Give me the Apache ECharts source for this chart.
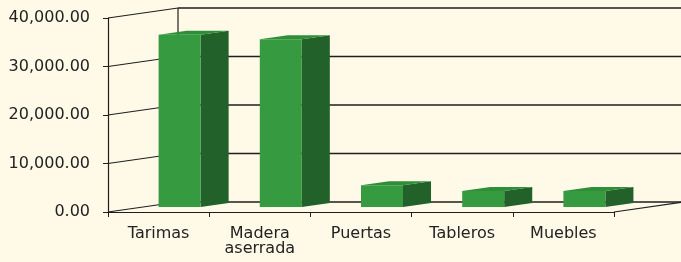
<!DOCTYPE html>
<html>
<head>
<meta charset="utf-8">
<script src="https://cdn.jsdelivr.net/npm/echarts@6/dist/echarts.min.js"></script>
<style>
html,body{margin:0;padding:0;background:#FFFAE8;}
#chart{width:681px;height:262px;}
</style>
</head>
<body>
<div id="chart"></div>
<script>
var categories = ['Tarimas', 'Madera\naserrada', 'Puertas', 'Tableros', 'Muebles'];
var values = [35500, 34600, 4500, 3300, 3300];
var yTicks = [0, 10000, 20000, 30000, 40000];

var DEPTH_X = 70, DEPTH_Y = -10;
var LINE = '#1e1e1e';

function fmt(v) {
  return v.toLocaleString('en-US', {minimumFractionDigits: 2, maximumFractionDigits: 2});
}

var chart = echarts.init(document.getElementById('chart'), null, {renderer: 'canvas'});
chart.setOption({
  backgroundColor: '#FFFAE8',
  animation: false,
  grid: {left: 108, right: 67, top: 18, bottom: 50},
  xAxis: {
    type: 'category',
    data: categories,
    axisLine: {show: true, lineStyle: {color: LINE, width: 1.2}},
    axisTick: {show: true, length: 5, lineStyle: {color: LINE}},
    axisLabel: {color: '#222', fontFamily: 'DejaVu Sans', fontSize: 16, lineHeight: 15, margin: 14}
  },
  yAxis: {
    type: 'value',
    min: 0, max: 40000, interval: 10000,
    axisLine: {show: true, lineStyle: {color: LINE, width: 1.2}},
    axisTick: {show: true, length: 5, lineStyle: {color: LINE}},
    splitLine: {show: false},
    axisLabel: {color: '#222', fontFamily: 'DejaVu Sans', fontSize: 16, margin: 18, formatter: fmt}
  },
  series: [
    {
      type: 'custom',
      clip: false,
      silent: true,
      z: 1,
      data: yTicks.map(function (v) { return [0, v]; }),
      renderItem: function (params, api) {
        var cs = params.coordSys;
        var y = api.coord([0, api.value(1)])[1];
        var xl = cs.x, xr = cs.x + cs.width;
        var children = [
          {type: 'line', shape: {x1: xl, y1: y, x2: xl + DEPTH_X, y2: y + DEPTH_Y}, style: {stroke: LINE, lineWidth: 1.2}},
          {type: 'line', shape: {x1: xl + DEPTH_X, y1: y + DEPTH_Y, x2: 700, y2: y + DEPTH_Y}, style: {stroke: LINE, lineWidth: 1.4}}
        ];
        if (params.dataIndex === 0) {
          children.push({type: 'line', shape: {x1: xr, y1: y, x2: xr + DEPTH_X, y2: y + DEPTH_Y}, style: {stroke: LINE, lineWidth: 1.2}});
          var yTop = api.coord([0, yTicks[yTicks.length - 1]])[1];
          children.push({type: 'line', shape: {x1: xl + DEPTH_X, y1: y + DEPTH_Y, x2: xl + DEPTH_X, y2: yTop + DEPTH_Y}, style: {stroke: LINE, lineWidth: 1.2}});
        }
        return {type: 'group', children: children};
      }
    },
    {
      type: 'custom',
      clip: false,
      z: 2,
      data: values.map(function (v, i) { return [i, v]; }),
      renderItem: function (params, api) {
        var i = api.value(0);
        var p0 = api.coord([i, 0]);
        var p1 = api.coord([i, api.value(1)]);
        var band = api.size([1, 0])[0];
        var w = band * 0.415, dx = band * 0.277, dy = -4;
        var x0 = p0[0], x1 = x0 + w;
        var yb = p0[1] - 5, yt = p1[1] - 5;
        return {
          type: 'group',
          children: [
            {type: 'polygon', shape: {points: [[x1, yt], [x1 + dx, yt + dy], [x1 + dx, yb + dy], [x1, yb]]}, style: {fill: '#23612A'}},
            {type: 'polygon', shape: {points: [[x0, yt], [x0 + dx, yt + dy], [x1 + dx, yt + dy], [x1, yt]]}, style: {fill: '#2F8E38'}},
            {type: 'rect', shape: {x: x0, y: yt, width: w, height: yb - yt}, style: {fill: '#369A40'}}
          ]
        };
      }
    }
  ]
});
</script>
</body>
</html>
